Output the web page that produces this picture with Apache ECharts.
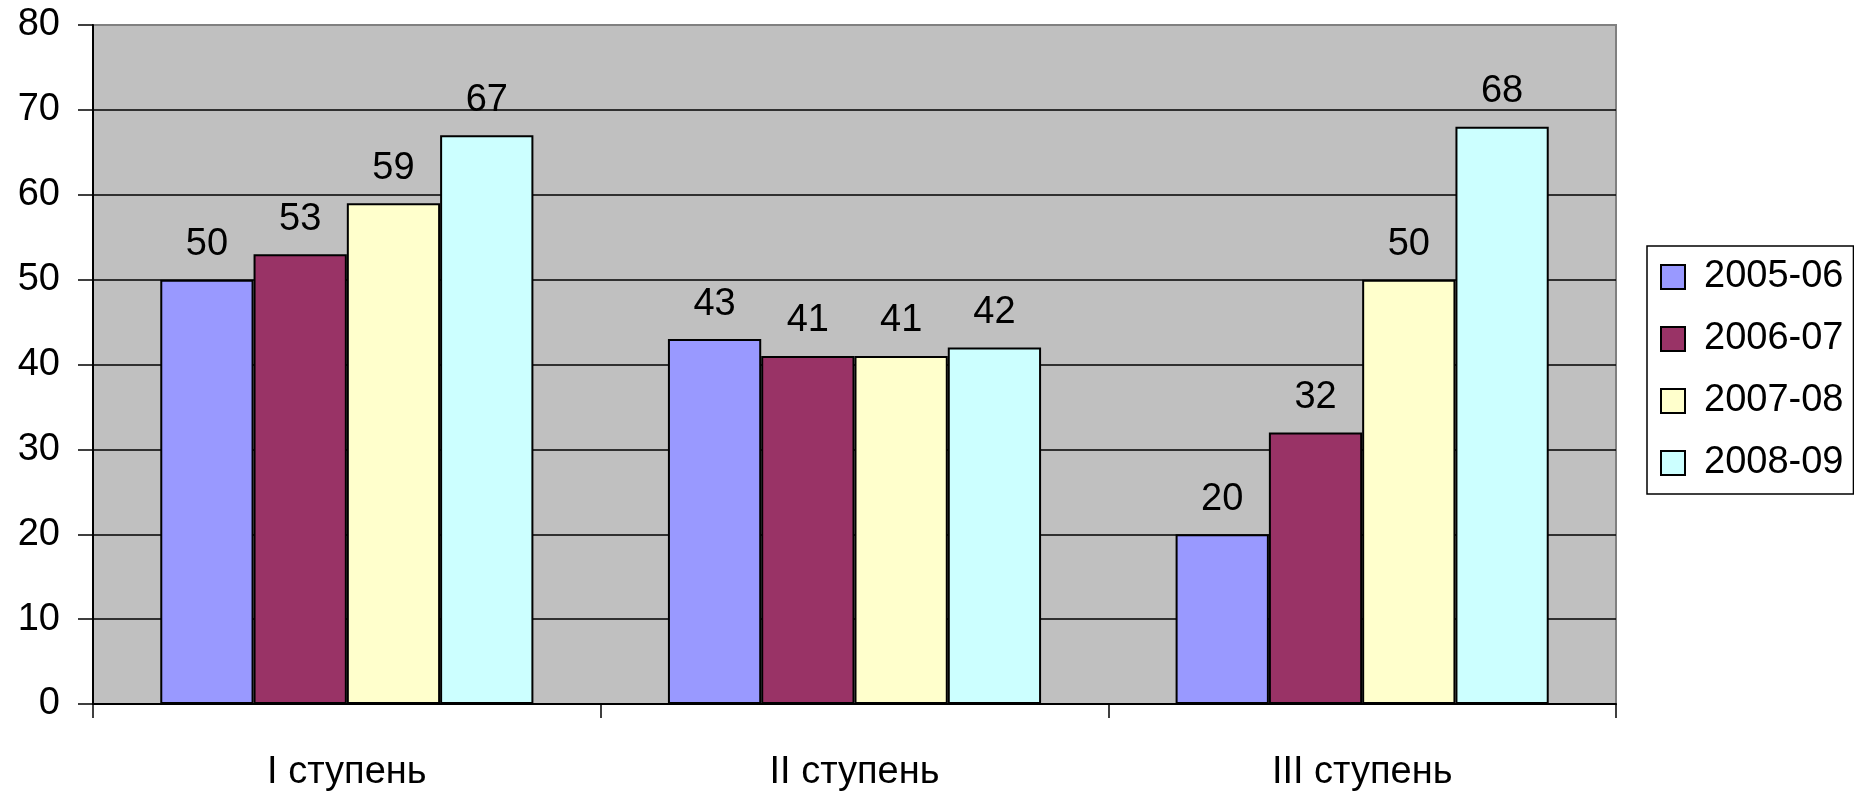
<!DOCTYPE html>
<html>
<head>
<meta charset="utf-8">
<script src="https://cdn.jsdelivr.net/npm/echarts@6/dist/echarts.min.js"></script>
<style>
html,body{margin:0;padding:0;background:#fff;}
#chart{width:1854px;height:794px;}
</style>
</head>
<body>
<div id="chart"></div>
<script>
const categories = ['I ступень', 'II ступень', 'III ступень'];
const seriesNames = ['2005-06', '2006-07', '2007-08', '2008-09'];
const s2005 = [50, 43, 20];
const s2006 = [53, 41, 32];
const s2007 = [59, 41, 50];
const s2008 = [67, 42, 68];
const seriesValues = [s2005, s2006, s2007, s2008];
const colors = ['#9999FF', '#993366', '#FFFFCC', '#CCFFFF'];
const yTicks = [0, 10, 20, 30, 40, 50, 60, 70, 80];

const FONT = '"Liberation Sans", Arial, sans-serif';
const chart = echarts.init(document.getElementById('chart'));
const splitColors = yTicks.map((t, i) => i === yTicks.length - 1 ? '#808080' : '#000000');

chart.setOption({
  animation: false,
  backgroundColor: '#ffffff',
  grid: {
    left: 93, right: 238, top: 25, bottom: 90,
    show: true,
    backgroundColor: '#C0C0C0',
    borderColor: '#808080',
    borderWidth: 2
  },
  legend: {
    orient: 'vertical',
    left: 1647, top: 246,
    backgroundColor: '#ffffff',
    borderColor: '#000000',
    borderWidth: 1.5,
    padding: [12, 10, 12, 13],
    itemWidth: 24, itemHeight: 24,
    itemGap: 24,
    icon: 'rect',
    textStyle: { fontSize: 38, fontFamily: FONT, color: '#000', padding: [0, 0, 0, 14] },
    data: seriesNames
  },
  xAxis: {
    type: 'category',
    data: categories,
    axisLine: { lineStyle: { color: '#000', width: 2 } },
    axisTick: { show: true, length: 14, lineStyle: { color: '#000', width: 1.5 } },
    axisLabel: { fontSize: 38, fontFamily: FONT, color: '#000', margin: 50 }
  },
  yAxis: {
    type: 'value',
    min: 0, max: 80, interval: 10,
    axisLine: { show: true, lineStyle: { color: '#000', width: 2 } },
    axisTick: { show: true, length: 15, lineStyle: { color: '#000', width: 1.5 } },
    axisLabel: { fontSize: 38, fontFamily: FONT, color: '#000', margin: 33 },
    splitLine: { show: true, lineStyle: { color: splitColors, width: 1.5 } }
  },
  series: seriesNames.map((name, i) => ({
    name: name,
    type: 'bar',
    data: seriesValues[i],
    barGap: '0%',
    barCategoryGap: '26.5%',
    itemStyle: { color: colors[i], borderColor: '#000', borderWidth: 2 },
    label: {
      show: true, position: 'top', distance: 16,
      fontSize: 38, fontFamily: FONT, color: '#000'
    }
  }))
});
</script>
</body>
</html>
